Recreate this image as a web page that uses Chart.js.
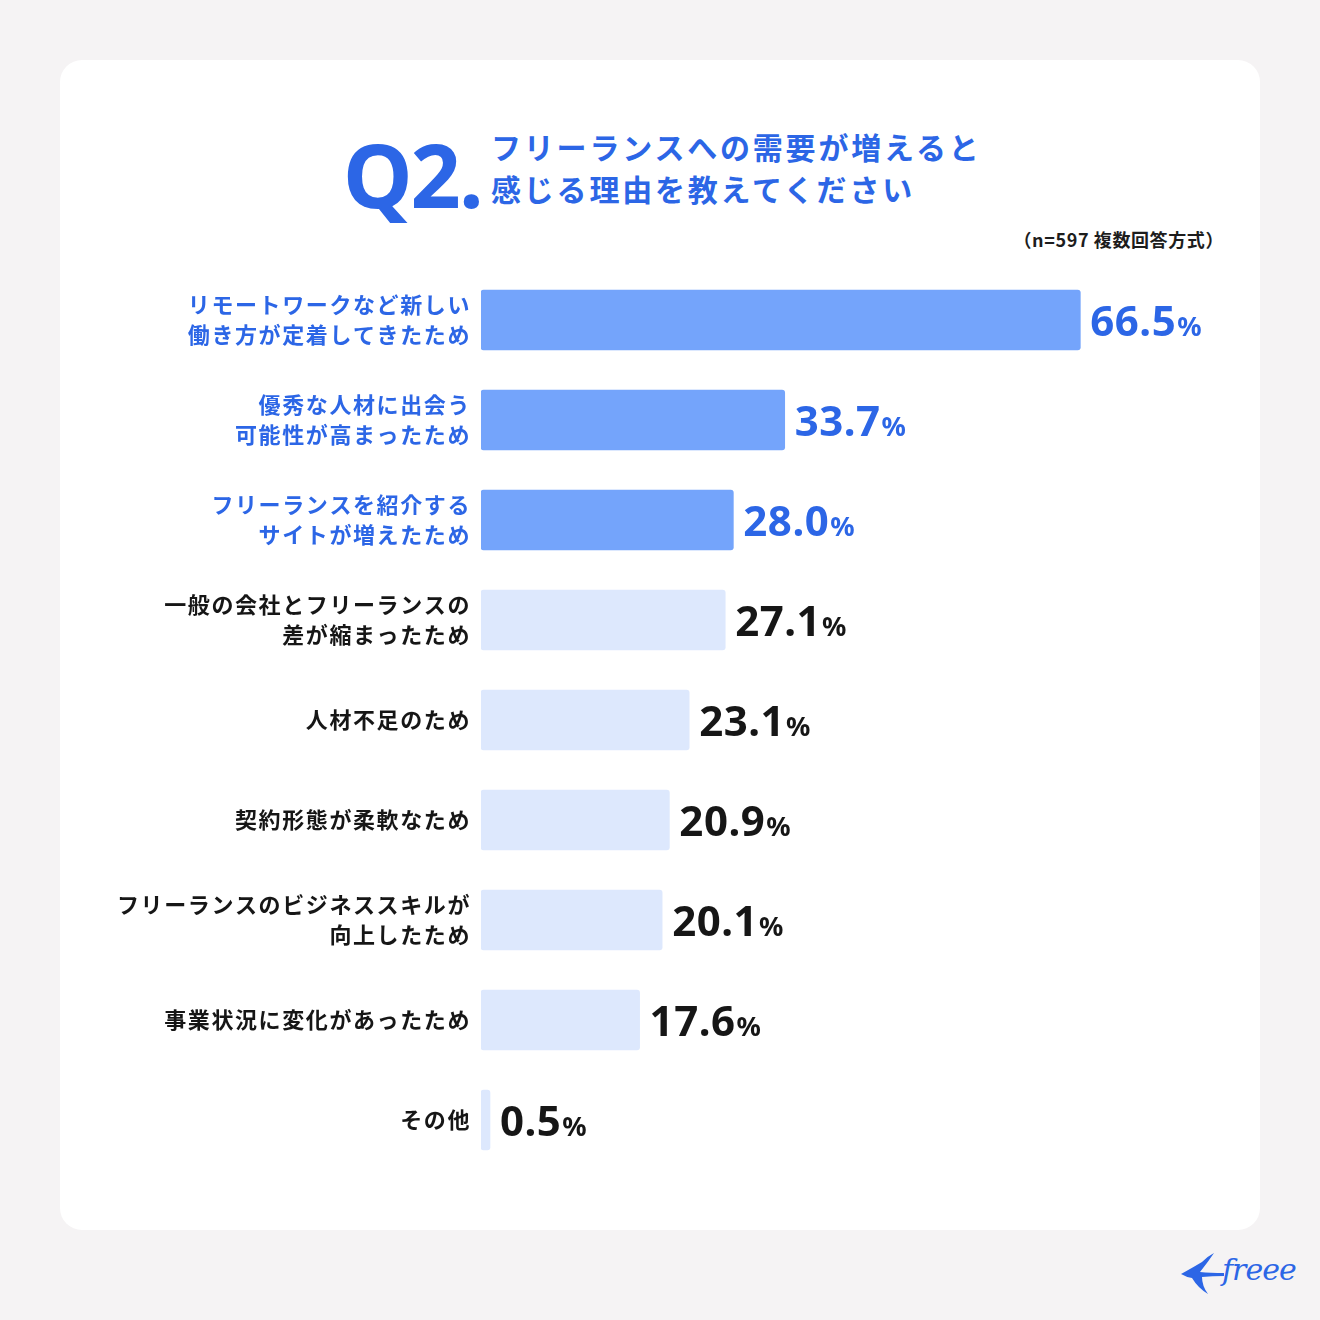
<!DOCTYPE html>
<html lang="ja">
<head>
<meta charset="utf-8">
<script src="https://cdn.jsdelivr.net/npm/chart.js@4.4.1/dist/chart.umd.min.js"></script>
<style>
  html, body { margin: 0; padding: 0; }
  body {
    width: 1320px; height: 1320px; background: #f5f3f4; position: relative; overflow: hidden;
    font-family: "Noto Sans CJK JP", "Noto Sans", sans-serif;
  }
  .card {
    position: absolute; left: 60px; top: 60px; width: 1200px; height: 1170px;
    background: #ffffff; border-radius: 22px;
  }
  .q {
    position: absolute; left: 343px; top: 114px; font-family: "Noto Sans", sans-serif;
    font-weight: 700; font-size: 88px; line-height: 120px; color: #2c66e6; letter-spacing: -2px;
  }
  .question {
    position: absolute; left: 491px; top: 125px; font-weight: 700; font-size: 30px;
    line-height: 42px; color: #2c66e6; letter-spacing: 2.8px;
  }
  .note {
    position: absolute; right: 96px; top: 226px; font-weight: 700; font-size: 18px;
    color: #1d1d1d; letter-spacing: 0.6px;
  }
  #wrap { position: absolute; left: 60px; top: 270px; width: 1200px; height: 900px; }
  .logo { position: absolute; left: 1178px; top: 1248px; width: 125px; height: 52px; }
  .logo svg { position: absolute; left: 0; top: 0; }
  .logo span {
    position: absolute; left: 44px; top: 4px; font-family: "DejaVu Serif", serif; font-style: italic;
    font-size: 30px; color: #2c66e6; letter-spacing: -1px;
  }
</style>
</head>
<body>
<div class="card"></div>
<div class="q">Q2.</div>
<div class="question">フリーランスへの需要が増えると<br>感じる理由を教えてください</div>
<div class="note">（n=597 複数回答方式）</div>
<div id="wrap"><canvas id="chart" width="1200" height="900"></canvas></div>
<div class="logo">
  <svg width="52" height="52" viewBox="0 0 52 52">
    <path d="M3 26 Q14 20 24 14 Q30 8 36 5 Q30 14 22 24 Q32 25 46 25 L46 28 Q34 28 24 29 Q24 38 30 46 Q20 40 14 30 Q8 29 3 26 Z" fill="#2c66e6"/>
  </svg>
  <span>freee</span>
</div>
<script>
// カテゴリ（複数行ラベル）
const categories = [
  ['リモートワークなど新しい', '働き方が定着してきたため'],
  ['優秀な人材に出会う', '可能性が高まったため'],
  ['フリーランスを紹介する', 'サイトが増えたため'],
  ['一般の会社とフリーランスの', '差が縮まったため'],
  '人材不足のため',
  '契約形態が柔軟なため',
  ['フリーランスのビジネススキルが', '向上したため'],
  '事業状況に変化があったため',
  'その他'
];
// 回答率（%）
const values = [66.5, 33.7, 28.0, 27.1, 23.1, 20.9, 20.1, 17.6, 0.5];
// 上位3項目を強調
const highlightCount = 3;

const BLUE = '#2c66e6';
const BLACK = '#161616';
const barColors = values.map((v, i) => i < highlightCount ? '#74a4fb' : '#dde8fd');
const textColors = values.map((v, i) => i < highlightCount ? BLUE : BLACK);

// ラベルの字間を少し広げる
const spacing = {
  id: 'spacing',
  beforeDraw(chart) { chart.ctx.letterSpacing = '1.6px'; },
  afterDraw(chart) { chart.ctx.letterSpacing = '0px'; }
};

// バー右側に値を描画
const valueLabels = {
  id: 'valueLabels',
  afterDatasetsDraw(chart) {
    const ctx = chart.ctx;
    const meta = chart.getDatasetMeta(0);
    ctx.save();
    ctx.letterSpacing = '0.5px';
    ctx.textBaseline = 'alphabetic';
    ctx.textAlign = 'left';
    meta.data.forEach((bar, i) => {
      const num = values[i].toFixed(1);
      const x = bar.x + 10;
      const y = bar.y + 16;
      ctx.fillStyle = textColors[i];
      ctx.font = 'bold 42px "Noto Sans", sans-serif';
      ctx.fillText(num, x, y);
      const w = ctx.measureText(num).width;
      ctx.font = 'bold 27px "Noto Sans", sans-serif';
      ctx.fillText('%', x + w + 1, y);
    });
    ctx.restore();
  }
};

new Chart(document.getElementById('chart'), {
  type: 'bar',
  data: {
    labels: categories,
    datasets: [{
      data: values,
      backgroundColor: barColors,
      borderRadius: 3,
      borderSkipped: false,
      barThickness: 60,
      minBarLength: 9
    }]
  },
  options: {
    indexAxis: 'y',
    responsive: false,
    animation: false,
    layout: { padding: { left: 0, right: 49, top: 0, bottom: 0 } },
    plugins: { legend: { display: false }, tooltip: { enabled: false } },
    scales: {
      x: { display: false, min: 0, max: 81 },
      y: {
        grid: { display: false, drawTicks: false },
        border: { display: false },
        ticks: {
          padding: 10,
          color: textColors,
          font: { family: '"Noto Sans CJK JP", sans-serif', size: 22, weight: 'bold', lineHeight: 1.36 }
        },
        afterFit(scale) {
          scale.width = 421;
          scale.paddingTop = 0;
          scale.paddingBottom = 0;
        }
      }
    }
  },
  plugins: [spacing, valueLabels]
});
</script>
</body>
</html>
